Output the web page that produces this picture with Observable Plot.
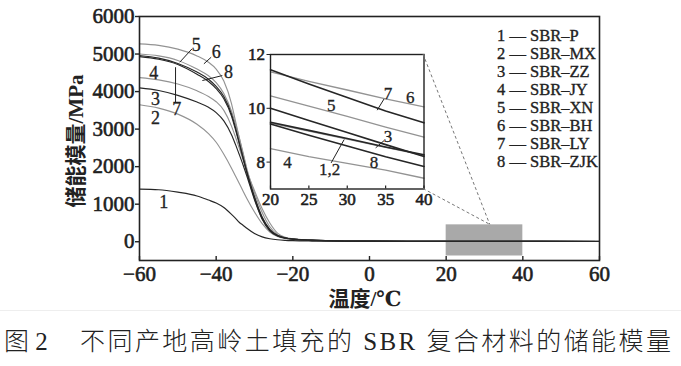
<!DOCTYPE html>
<html><head><meta charset="utf-8">
<script src="https://cdn.jsdelivr.net/npm/d3@7"></script>
<script src="https://cdn.jsdelivr.net/npm/@observablehq/plot@0.6"></script>
<style>
body{margin:0;background:#fff;}
#wrap{position:relative;width:681px;height:366px;overflow:hidden;background:#fff;}
#wrap > svg, #wrap > figure{position:absolute;margin:0;}
#wrap svg text{font-family:"Liberation Serif","Times New Roman","DejaVu Serif","Noto Sans CJK SC",serif;}
#wrap svg g[aria-label$="tick label"] text{font-family:"Liberation Serif","Times New Roman","DejaVu Serif",serif !important;font-weight:normal !important;font-variant:normal !important;stroke:#1e1e1e;stroke-width:0.6px;fill:#1e1e1e;}
#wrap svg g[aria-label="text"] text{font-family:"Liberation Serif","Times New Roman","DejaVu Serif",serif;stroke:#222;stroke-width:0.3px;}
</style></head><body><div id="wrap"></div>
<script>
// ---------- data ----------
const temps  = [-60,-55,-50,-45,-42,-40,-38,-36,-35,-34,-33,-32,-30,-28,-26,-24,-22,-20,-15,-10,0,10,20,25,30,35,40,50,60];
const sbrP   = [1400,1385,1320,1220,1110,1030,910,730,630,520,440,360,220,130,80,52,37,28,18,14,11,10,9.48,9.18,8.88,8.56,8.27,7.8,7.3];
const sbrMX  = [3650,3560,3400,3130,2880,2650,2330,1960,1760,1560,1350,1150,790,480,260,140,90,65,38,24,15,11,9.45,9.15,8.85,8.55,8.25,7.8,7.3];
const sbrZZ  = [4100,4030,3900,3720,3580,3440,3220,2850,2600,2330,2050,1750,1120,600,290,150,95,68,40,25,15,11.5,10.0,9.55,9.1,8.65,8.21,7.7,7.2];
const sbrJY  = [4370,4310,4200,4020,3870,3730,3500,3080,2800,2500,2180,1850,1180,640,310,160,100,70,40,24,14,10,8.5,8.2,7.95,7.7,7.4,7.0,6.6];
const sbrXN  = [5000,4950,4830,4600,4420,4240,3950,3480,3150,2780,2380,1950,1300,780,400,190,105,70,40,25,15,12,10.46,10.08,9.7,9.3,8.93,8.4,7.9];
const sbrBH  = [5270,5230,5130,4950,4780,4600,4280,3680,3230,2780,2340,1900,1360,880,500,230,120,80,45,28,16,12.5,11.35,11.0,10.68,10.35,10.05,9.5,9.0];
const sbrLY  = [4960,4890,4750,4520,4330,4140,3870,3400,3050,2650,2250,1850,1150,620,310,160,100,70,42,27,16,12.5,11.43,10.9,10.4,9.9,9.46,8.8,8.2];
const sbrZJK = [4930,4860,4720,4460,4270,4080,3810,3350,3000,2620,2230,1860,1200,660,330,170,105,72,42,26,15,11,9.42,9.0,8.6,8.2,7.84,7.3,6.8];

const seriesIds    = [1,2,3,4,5,6,7,8];
const seriesNames  = ["SBR–P","SBR–MX","SBR–ZZ","SBR–JY","SBR–XN","SBR–BH","SBR–LY","SBR–ZJK"];
const seriesValues = [sbrP,sbrMX,sbrZZ,sbrJY,sbrXN,sbrBH,sbrLY,sbrZJK];
const seriesTone   = ["dark","light","dark","light","light","light","dark","dark"];

const xTicks = [-60,-40,-20,0,20,40,60];
const yTicks = [0,1000,2000,3000,4000,5000,6000];
const insetXTicks = [20,25,30,35,40];
const insetYTicks = [8,10,12];
const zoomBox = [{x1:20,x2:40,y1:-380,y2:450}];
const zoomAnchorX = 31.5;

const mainLabels = [
  {t:"1",x:-53.7,y:1048},{t:"2",x:-55.8,y:3299},{t:"3",x:-55.8,y:3805},{t:"4",x:-56.3,y:4489},
  {t:"5",x:-45.2,y:5227},{t:"6",x:-40.0,y:5049},{t:"7",x:-50.3,y:3539},{t:"8",x:-36.8,y:4515}
];
const mainLeaders = [
  {x1:-46.3,y1:5139,x2:-49.5,y2:4782},
  {x1:-41.3,y1:4915,x2:-43.2,y2:4739},
  {x1:-38.4,y1:4427,x2:-43.6,y2:4294},
  {x1:-50.6,y1:3715,x2:-50.6,y2:4649}
];
const insetLabels = [
  {t:"7",x:35.3,y:10.53},{t:"6",x:38.2,y:10.4},{t:"5",x:27.9,y:10.09},{t:"3",x:35.3,y:8.94},
  {t:"8",x:33.5,y:7.97},{t:"4",x:22.2,y:7.99},{t:"1,2",x:27.7,y:7.72}
];
const insetLeaders = [
  {x1:34.8,y1:10.35,x2:33.9,y2:9.93},
  {x1:34.8,y1:8.8,x2:33.7,y2:8.53},
  {x1:27.9,y1:7.97,x2:29.6,y2:8.84}
];
const xTitle = "温度/℃";
const yTitle = "储能模量/MPa";
const captionLead = "图 2";
const captionText = "不同产地高岭土填充的 SBR 复合材料的储能模量";

// ---------- styles ----------
const toneColor = {dark:"#262626", light:"#939393"};
const serif = "Liberation Serif, serif";
const rows = seriesIds.flatMap((id,i) => temps.map((T,j) => ({id, T, E: seriesValues[i][j], tone: seriesTone[i]})));
const fmtMinus = d => d < 0 ? "\u2212" + Math.abs(d) : String(d);
const fmtPlain = d => String(d);

const wrap = document.getElementById("wrap");

// ---------- main chart ----------
const W = 681, H = 320, mT = 16, mB = 60, mL = 139, mR = 82;
const frameH = H - mT - mB;
const orderIdx = [1,3,4,5,0,2,6,7]; // light first, dark on top
const main = Plot.plot({
  width: W, height: H, marginTop: mT, marginBottom: mB, marginLeft: mL, marginRight: mR,
  x: {domain: [-60, 60]},
  y: {domain: [-500, 6000]},
  style: {fontFamily: serif, background: "transparent", color: "#222", overflow: "visible"},
  marks: [
    Plot.rect(zoomBox, {x1:"x1", x2:"x2", y1:"y1", y2:"y2", fill:"#a9a9a9"}),
    ...orderIdx.map(i => Plot.line(rows.filter(r => r.id === seriesIds[i]), {
      x:"T", y:"E", stroke: toneColor[seriesTone[i]], strokeWidth: 1.15, curve:"monotone-x"})),
    Plot.frame({stroke:"#222", strokeWidth:1.6}),
    Plot.axisY({ticks: yTicks, tickFormat: fmtPlain, tickSize: 4, tickPadding: 1, fontSize: 21, label: null, strokeWidth: 1.4}),
    Plot.axisX({ticks: xTicks, tickSize: 0, tickPadding: 6, fontSize: 21, label: null, tickFormat: fmtMinus}),
    Plot.tickX(xTicks, {x: d => d, insetTop: frameH - 4, stroke: "#222", strokeWidth: 1.4}),
    Plot.link(mainLeaders, {x1:"x1", y1:"y1", x2:"x2", y2:"y2", stroke:"#222", strokeWidth:1}),
    Plot.text(mainLabels, {x:"x", y:"y", text:"t", fontSize: 18, fill:"#222"})
  ]
});
main.style.left = "0px"; main.style.top = "0px";
wrap.appendChild(main);

// ---------- inset ----------
const iL = 269.5, iR = 423, iT = 54, iB = 188.5;
const imL = 30, imR = 6, imT = 6, imB = 24;
const iW = imL + (iR - iL) + imR, iH = imT + (iB - iT) + imB;
const iFrameH = iB - iT;
const insetRows = rows.filter(r => r.T >= 20 && r.T <= 40);
const inset = Plot.plot({
  width: iW, height: iH, marginTop: imT, marginBottom: imB, marginLeft: imL, marginRight: imR,
  x: {domain: [20, 40]},
  y: {domain: [7, 12]},
  style: {fontFamily: serif, background: "transparent", color: "#222", overflow: "visible"},
  marks: [
    Plot.frame({fill: "#fff"}),
    ...orderIdx.map(i => Plot.line(insetRows.filter(r => r.id === seriesIds[i]), {
      x:"T", y:"E", stroke: toneColor[seriesTone[i]], strokeWidth: seriesTone[i] === "dark" ? 1.6 : 1.3})),
    Plot.frame({stroke:"#222", strokeWidth:1.4}),
    Plot.axisY({ticks: insetYTicks, tickFormat: fmtPlain, tickSize: 3.5, tickPadding: 2, fontSize: 17, label: null}),
    Plot.axisX({ticks: insetXTicks, tickFormat: fmtPlain, tickSize: 0, tickPadding: 4, fontSize: 17, label: null}),
    Plot.tickX(insetXTicks, {x: d => d, insetTop: iFrameH - 3, stroke: "#222", strokeWidth: 1.2}),
    Plot.link(insetLeaders, {x1:"x1", y1:"y1", x2:"x2", y2:"y2", stroke:"#222", strokeWidth:1}),
    Plot.text(insetLabels, {x:"x", y:"y", text:"t", fontSize: 17, fill:"#222"})
  ]
});
const insetLeft = iL - imL, insetTop = iT - imT;
inset.style.left = insetLeft + "px"; inset.style.top = insetTop + "px";
wrap.appendChild(inset);

// ---------- overlay: connectors, titles, legend, caption ----------
const sx = main.scale("x"), sy = main.scale("y");
const ix = inset.scale("x"), iy = inset.scale("y");
const ov = d3.select(wrap).append("svg").attr("width", W).attr("height", 366)
  .style("left", "0px").style("top", "0px").style("pointer-events", "none");
const ax = sx.apply(zoomAnchorX), ay = sy.apply(zoomBox[0].y2);
const corners = [[ix.apply(40), iy.apply(12)], [ix.apply(40), iy.apply(7)]];
ov.selectAll("line.conn").data(corners).join("line").attr("class", "conn")
  .attr("x1", d => d[0] + insetLeft).attr("y1", d => d[1] + insetTop)
  .attr("x2", ax).attr("y2", ay)
  .attr("stroke", "#777").attr("stroke-width", 1).attr("stroke-dasharray", "3,2.5");

// legend
const legX = 497, legY0 = 35, legDy = 18.1;
ov.append("g").selectAll("text").data(seriesIds).join("text")
  .attr("x", legX).attr("y", (d, i) => legY0 + i * legDy + 5.6)
  .attr("font-size", 16.5).attr("fill", "#222")
  .attr("stroke", "#222").attr("stroke-width", 0.35)
  .text((d, i) => `${d} — ${seriesNames[i]}`);

// axis titles
ov.append("text").attr("x", 365).attr("y", 306).attr("text-anchor", "middle")
  .attr("font-size", 21).attr("font-weight", 700).attr("fill", "#222")
  .text(xTitle);
ov.append("text").attr("transform", "translate(83,141) rotate(-90)").attr("text-anchor", "middle")
  .attr("font-size", 21).attr("font-weight", 700).attr("fill", "#222")
  .text(yTitle);

// separator + caption
ov.append("line").attr("x1", 0).attr("x2", W).attr("y1", 310.5).attr("y2", 310.5)
  .attr("stroke", "#eeeeee").attr("stroke-width", 1);
ov.append("text").attr("x", 4).attr("y", 350).attr("font-size", 25)
  .attr("font-weight", 300).attr("fill", "#222").text(captionLead);
ov.append("text").attr("x", 80).attr("y", 350).attr("font-size", 25)
  .attr("font-weight", 300).attr("fill", "#222").attr("textLength", 591).attr("lengthAdjust", "spacing")
  .text(captionText);
</script></body></html>
